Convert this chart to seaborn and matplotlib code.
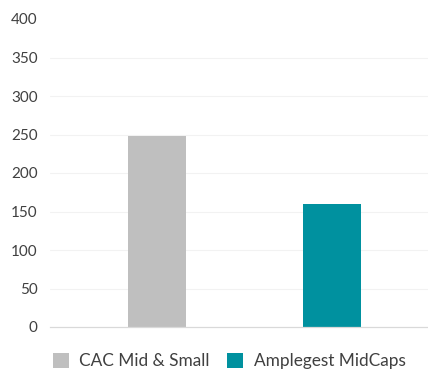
import matplotlib
matplotlib.use("Agg")
import matplotlib.pyplot as plt
import seaborn as sns
import pandas as pd
from matplotlib.patches import Patch

categories = ["CAC Mid & Small", "Amplegest MidCaps"]
values = [248, 160]
colors = ["#bfbfbf", "#00919f"]
yticks = [0, 50, 100, 150, 200, 250, 300, 350, 400]

sns.set_theme(style="white")
plt.rcParams['font.family'] = ['Lato', 'DejaVu Sans']

df = pd.DataFrame({"cat": categories, "val": values})

fig = plt.figure(figsize=(4.28, 3.71), dpi=100)
ax = fig.add_axes([50/428, 44/371, 378/428, 308/371])
sns.barplot(data=df, x="cat", y="val", hue="cat", palette=colors, width=0.33,
            ax=ax, legend=False, saturation=1, edgecolor="none")
ax.set_ylim(0, 400)
ax.set_xlim(-0.61, 1.55)
ax.set_yticks(yticks)
ax.set_yticklabels([str(t) for t in yticks], fontsize=11, color="#404040")
ax.set_xticks([])
ax.set_xlabel("")
ax.set_ylabel("")
ax.tick_params(axis="y", length=0, pad=9)
for y in yticks[1:-1]:
    ax.axhline(y, color="#f2f2f2", lw=0.8, zorder=0)
for s in ["top", "right", "left"]:
    ax.spines[s].set_visible(False)
ax.spines["bottom"].set_color("#d9d9d9")
ax.spines["bottom"].set_linewidth(0.9)

handles = [Patch(facecolor=c, edgecolor="none") for c in colors]
fig.legend(handles, categories, loc="center", bbox_to_anchor=(229/428, 10/371),
           ncol=2, frameon=False, fontsize=12.4, handlelength=0.95, handleheight=0.95,
           columnspacing=1.0, handletextpad=0.6, labelcolor="#404040")

fig.savefig("out.png", dpi=100)
